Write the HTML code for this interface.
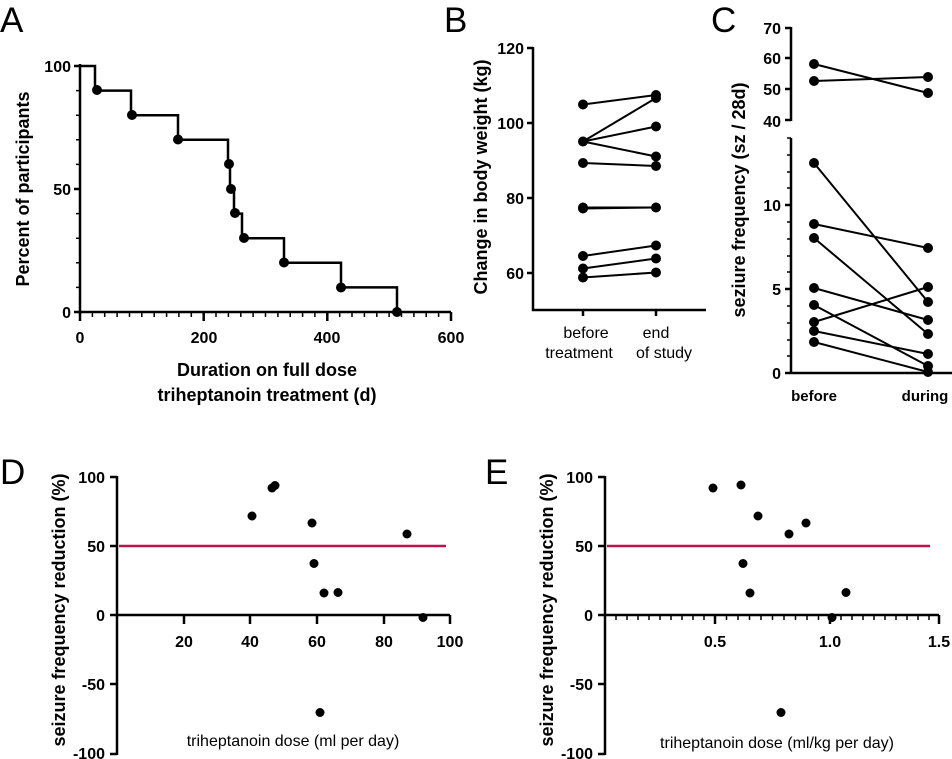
<!DOCTYPE html>
<html><head><style>body{margin:0;background:#fff}svg{display:block}text{font-family:"Liberation Sans",sans-serif}</style></head><body>
<svg width="952" height="759" viewBox="0 0 952 759" xmlns="http://www.w3.org/2000/svg">
<g fill="#000">
<text x="0" y="32" font-size="35">A</text>
<text x="444" y="32" font-size="35">B</text>
<text x="711" y="32" font-size="35">C</text>
<text x="0" y="484" font-size="35">D</text>
<text x="485" y="484" font-size="35">E</text>
</g>

<!-- Panel A -->
<g stroke="#000" stroke-width="2.5" fill="none">
<path d="M80,64V314M80,312H451M74,66H80M74,189H80M74,312H80"/>
<path d="M80,66H95V90.6H131V115.2H178V139.8H228V164.4H230V189H234V213.6H242V238.2H284V262.8H341V287.4H397V312"/>
</g>
<g stroke="#000" stroke-width="1.5">
<path d="M76,90.6H80M76,115.2H80M76,139.8H80M76,164.4H80M76,213.6H80M76,238.2H80M76,262.8H80M76,287.4H80"/>
<path d="M92.4,312v5M104.7,312v5M117.1,312v5M129.5,312v5M141.8,312v5M154.2,312v5M166.6,312v5M178.9,312v5M191.3,312v5M216,312v5M228.4,312v5M240.8,312v5M253.1,312v5M265.5,312v5M277.9,312v5M290.2,312v5M302.6,312v5M314.9,312v5M339.7,312v5M352,312v5M364.4,312v5M376.8,312v5M389.1,312v5M401.5,312v5M413.9,312v5M426.2,312v5M438.6,312v5"/>
</g>
<path d="M80,312v9M203.7,312v9M327.3,312v9M451,312v9" stroke="#000" stroke-width="2.5"/>
<g fill="#000">
<circle cx="97" cy="90" r="5"/><circle cx="132" cy="115" r="5"/><circle cx="178" cy="139.5" r="5"/><circle cx="229" cy="164" r="5"/><circle cx="231" cy="189" r="5"/><circle cx="235" cy="213" r="5"/><circle cx="244" cy="238" r="5"/><circle cx="284" cy="262.5" r="5"/><circle cx="341" cy="287.5" r="5"/><circle cx="397" cy="312" r="5"/>
</g>
<g font-size="16" font-weight="bold" text-anchor="end">
<text x="71" y="72">100</text><text x="71" y="195">50</text><text x="71" y="318">0</text>
</g>
<g font-size="16" font-weight="bold" text-anchor="middle">
<text x="80" y="343">0</text><text x="204" y="343">200</text><text x="327" y="343">400</text><text x="451" y="343">600</text>
<text x="267" y="376" font-size="18">Duration on full dose</text>
<text x="267" y="401" font-size="18">triheptanoin treatment (d)</text>
<text transform="translate(29,189) rotate(-90)" font-size="18">Percent of participants</text>
</g>

<!-- Panel B -->
<path d="M533,47V310H706M527,48H533M527,123H533M527,198H533M527,273H533M583,310v6M656,310v6" stroke="#000" stroke-width="2.5" fill="none"/>
<g font-size="16" font-weight="bold" text-anchor="end">
<text x="524" y="54">120</text><text x="524" y="129">100</text><text x="524" y="204">80</text><text x="524" y="279">60</text>
</g>
<text transform="translate(487,177) rotate(-90)" font-size="18" font-weight="bold" text-anchor="middle">Change in body weight (kg)</text>
<g font-size="16" text-anchor="middle">
<text x="586" y="338">before</text><text x="579" y="358">treatment</text>
<text x="656" y="338">end</text><text x="664" y="358">of study</text>
</g>
<g stroke="#000" stroke-width="2">
<line x1="583" y1="104.5" x2="656" y2="95"/>
<line x1="583" y1="141.5" x2="656" y2="98"/>
<line x1="583" y1="141.5" x2="656" y2="126.5"/>
<line x1="583" y1="141.5" x2="656" y2="156.5"/>
<line x1="583" y1="163" x2="656" y2="166"/>
<line x1="583" y1="207.5" x2="656" y2="207.5"/>
<line x1="583" y1="208.5" x2="656" y2="207.5"/>
<line x1="583" y1="256" x2="656" y2="245.5"/>
<line x1="583" y1="268.5" x2="656" y2="258.5"/>
<line x1="583" y1="277.5" x2="656" y2="272.5"/>
</g>
<g fill="#000">
<circle cx="583" cy="104.5" r="5"/><circle cx="583" cy="141.5" r="5"/><circle cx="583" cy="163" r="5"/><circle cx="583" cy="207.5" r="5"/><circle cx="583" cy="208.5" r="5"/><circle cx="583" cy="256" r="5"/><circle cx="583" cy="268.5" r="5"/><circle cx="583" cy="277.5" r="5"/>
<circle cx="656" cy="95" r="5"/><circle cx="656" cy="98" r="5"/><circle cx="656" cy="126.5" r="5"/><circle cx="656" cy="156.5" r="5"/><circle cx="656" cy="166" r="5"/><circle cx="656" cy="207.5" r="5"/><circle cx="656" cy="245.5" r="5"/><circle cx="656" cy="258.5" r="5"/><circle cx="656" cy="272.5" r="5"/>
</g>

<!-- Panel C -->
<g stroke="#000" stroke-width="2.5" fill="none">
<path d="M791,27V121M785,28H791M785,58H791M785,89H791M785,120H791"/>
<path d="M791,138V373H952M785,205H791M785,289H791M785,373H791"/>
</g>
<path d="M787,155H791M787,172H791M787,188H791M787,222H791M787,239H791M787,256H791M787,272H791M787,306H791M787,323H791M787,340H791M787,356H791M787,138H791" stroke="#000" stroke-width="1.5"/>
<g font-size="16" font-weight="bold" text-anchor="end">
<text x="781" y="34">70</text><text x="781" y="64">60</text><text x="781" y="95">50</text><text x="781" y="127">40</text>
<text x="781" y="211">10</text><text x="781" y="295">5</text><text x="781" y="379">0</text>
</g>
<text transform="translate(745,200) rotate(-90)" font-size="18" font-weight="bold" text-anchor="middle">seziure frequency (sz / 28d)</text>
<g font-size="15" font-weight="bold" text-anchor="middle">
<text x="814" y="401">before</text><text x="925" y="401">during</text>
</g>
<g stroke="#000" stroke-width="2">
<line x1="814" y1="64" x2="928" y2="93"/>
<line x1="814" y1="81" x2="928" y2="77"/>
<line x1="814" y1="163" x2="928" y2="302"/>
<line x1="814" y1="224" x2="928" y2="248"/>
<line x1="814" y1="238" x2="928" y2="334"/>
<line x1="814" y1="288" x2="928" y2="320"/>
<line x1="814" y1="305" x2="928" y2="366"/>
<line x1="814" y1="322" x2="928" y2="287"/>
<line x1="814" y1="331" x2="928" y2="354"/>
<line x1="814" y1="342" x2="928" y2="372"/>
</g>
<g fill="#000">
<circle cx="814" cy="64" r="5"/><circle cx="814" cy="81" r="5"/><circle cx="928" cy="93" r="5"/><circle cx="928" cy="77" r="5"/>
<circle cx="814" cy="163" r="5"/><circle cx="814" cy="224" r="5"/><circle cx="814" cy="238" r="5"/><circle cx="814" cy="288" r="5"/><circle cx="814" cy="305" r="5"/><circle cx="814" cy="322" r="5"/><circle cx="814" cy="331" r="5"/><circle cx="814" cy="342" r="5"/>
<circle cx="928" cy="302" r="5"/><circle cx="928" cy="248" r="5"/><circle cx="928" cy="334" r="5"/><circle cx="928" cy="320" r="5"/><circle cx="928" cy="366" r="5"/><circle cx="928" cy="287" r="5"/><circle cx="928" cy="354" r="5"/><circle cx="928" cy="372" r="5"/>
</g>

<!-- Panel D -->
<g stroke="#000" stroke-width="2.5" fill="none">
<path d="M117,476V755M110,477H117M110,546H117M110,615H117M110,684H117M110,754H117"/>
<path d="M117,615H450M184,615v9M250,615v9M317,615v9M384,615v9M450,615v9"/>
</g>
<line x1="119" y1="546" x2="446" y2="546" stroke="#c0124a" stroke-width="2.5"/>
<g font-size="16" font-weight="bold" text-anchor="end">
<text x="105" y="483">100</text><text x="105" y="552">50</text><text x="105" y="621">0</text><text x="105" y="690">-50</text><text x="105" y="759">-100</text>
</g>
<g font-size="16" font-weight="bold" text-anchor="middle">
<text x="184" y="647">20</text><text x="250" y="647">40</text><text x="317" y="647">60</text><text x="384" y="647">80</text><text x="450" y="647">100</text>
</g>
<text x="293" y="746" font-size="16" text-anchor="middle">triheptanoin dose (ml per day)</text>
<text transform="translate(65,610) rotate(-90)" font-size="18" font-weight="bold" text-anchor="middle">seizure frequency reduction (%)</text>
<g fill="#000">
<circle cx="252" cy="516" r="4.5"/><circle cx="272" cy="488" r="4.5"/><circle cx="275" cy="485.5" r="4.5"/><circle cx="312" cy="523" r="4.5"/><circle cx="407" cy="534" r="4.5"/><circle cx="314" cy="563.5" r="4.5"/><circle cx="324" cy="593" r="4.5"/><circle cx="338" cy="592.5" r="4.5"/><circle cx="423" cy="617.5" r="4.5"/><circle cx="320" cy="712.5" r="4.5"/>
</g>

<!-- Panel E -->
<g stroke="#000" stroke-width="2.5" fill="none">
<path d="M605,476V755M598,477H605M598,546H605M598,615H605M598,684H605M598,754H605"/>
<path d="M605,615H939M715,615v9M830,615v9M939,615v9"/>
</g>
<path d="M616,615v5M627,615v5M638,615v5M649,615v5M660,615v5M671,615v5M682,615v5M693,615v5M704,615v5M726.5,615v5M738,615v5M749.5,615v5M761,615v5M772.5,615v5M784,615v5M795.5,615v5M807,615v5M818.5,615v5M841,615v5M852,615v5M863,615v5M874,615v5M885,615v5M896,615v5M907,615v5M918,615v5M929,615v5" stroke="#000" stroke-width="1.5"/>
<line x1="607" y1="546" x2="930" y2="546" stroke="#c0124a" stroke-width="2.5"/>
<g font-size="16" font-weight="bold" text-anchor="end">
<text x="593" y="483">100</text><text x="593" y="552">50</text><text x="593" y="621">0</text><text x="593" y="690">-50</text><text x="593" y="759">-100</text>
</g>
<g font-size="16" font-weight="bold" text-anchor="middle">
<text x="715" y="647">0.5</text><text x="830" y="647">1.0</text><text x="939" y="647">1.5</text>
</g>
<text x="777" y="748" font-size="16" text-anchor="middle">triheptanoin dose (ml/kg per day)</text>
<text transform="translate(553,610) rotate(-90)" font-size="18" font-weight="bold" text-anchor="middle">seizure frequency reduction (%)</text>
<g fill="#000">
<circle cx="713" cy="488" r="4.5"/><circle cx="741" cy="485" r="4.5"/><circle cx="758" cy="516" r="4.5"/><circle cx="806" cy="523" r="4.5"/><circle cx="789" cy="534" r="4.5"/><circle cx="743" cy="563.5" r="4.5"/><circle cx="750" cy="593" r="4.5"/><circle cx="846" cy="592.5" r="4.5"/><circle cx="832" cy="617.5" r="4.5"/><circle cx="781" cy="712.5" r="4.5"/>
</g>
</svg>
</body></html>
